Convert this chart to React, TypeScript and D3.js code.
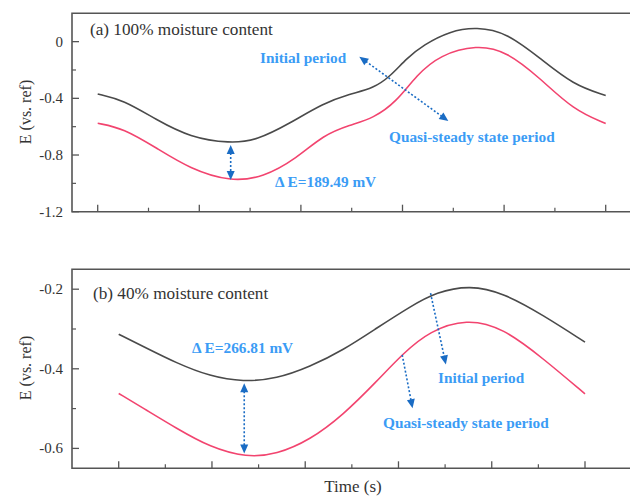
import React from "react";
import * as d3 from "d3";

// ---------- data ----------
const timeTopA = [0, 0.252, 0.581, 0.908, 1.302, 1.565, 1.893, 2.22, 2.483, 2.713, 2.877, 3.041, 3.205, 3.467, 3.73, 4.026, 4.354, 4.682, 5.0];
const initialA = [-0.369, -0.411, -0.553, -0.675, -0.718, -0.697, -0.576, -0.435, -0.369, -0.329, -0.247, -0.117, -0.023, 0.075, 0.104, 0.063, -0.117, -0.306, -0.38];
const timeTopB = [0, 0.252, 0.581, 0.908, 1.302, 1.63, 1.959, 2.22, 2.483, 2.713, 2.943, 3.14, 3.369, 3.73, 4.026, 4.354, 4.682, 5.0];
const quasiA = [-0.576, -0.611, -0.752, -0.897, -0.988, -0.958, -0.823, -0.659, -0.588, -0.541, -0.423, -0.235, -0.094, -0.022, -0.068, -0.258, -0.482, -0.578];

const timeBotA = [0, 0.264, 0.622, 0.979, 1.335, 1.693, 2.05, 2.407, 2.765, 3.122, 3.408, 3.765, 4.122, 4.551, 5.0];
const initialB = [-0.313, -0.344, -0.386, -0.419, -0.433, -0.425, -0.395, -0.353, -0.298, -0.244, -0.207, -0.19, -0.209, -0.265, -0.333];
const timeBotB = [0, 0.264, 0.622, 0.979, 1.372, 1.693, 2.05, 2.407, 2.765, 3.05, 3.336, 3.73, 4.122, 4.551, 5.0];
const quasiB = [-0.462, -0.499, -0.55, -0.597, -0.623, -0.615, -0.579, -0.516, -0.432, -0.361, -0.305, -0.274, -0.297, -0.374, -0.463];

const yMajorTop = [0, -0.4, -0.8, -1.2];
const yMajorTopLabels = ["0", "-0.4", "-0.8", "-1.2"];
const yMinorTop = [-0.2, -0.6, -1.0];
const yMajorBot = [-0.2, -0.4, -0.6];
const yMajorBotLabels = ["-0.2", "-0.4", "-0.6"];
const yMinorBot = [-0.3, -0.5];
const xMajor = [0, 1, 2, 3, 4, 5];
const xMinor = [0.5, 1.5, 2.5, 3.5, 4.5];

const BLACK = "#4a4a4a";
const RED = "#f2446f";
const BLUE_TEXT = "#3b9cf5";
const BLUE_ARROW = "#1a6cc4";
const AXIS = "#555";
const FONT = "'Liberation Serif', 'Times New Roman', serif";

type Scale = d3.ScaleLinear<number, number>;

function Arrow({ x1, y1, x2, y2, head1, head2 }: { x1: number; y1: number; x2: number; y2: number; head1: boolean; head2: boolean }) {
  const ang = Math.atan2(y2 - y1, x2 - x1);
  const L = 9, W = 4;
  const head = (x: number, y: number, a: number) => {
    const bx = x - L * Math.cos(a), by = y - L * Math.sin(a);
    const px = -Math.sin(a) * W, py = Math.cos(a) * W;
    return `M${x},${y}L${bx + px},${by + py}L${bx - px},${by - py}Z`;
  };
  const sx = head1 ? x1 + (L - 1) * Math.cos(ang) : x1;
  const sy = head1 ? y1 + (L - 1) * Math.sin(ang) : y1;
  const ex = head2 ? x2 - (L - 1) * Math.cos(ang) : x2;
  const ey = head2 ? y2 - (L - 1) * Math.sin(ang) : y2;
  return (
    <g>
      <line x1={sx} y1={sy} x2={ex} y2={ey} stroke={BLUE_ARROW} strokeWidth={1.6} strokeDasharray="2,2" />
      {head1 && <path d={head(x1, y1, ang + Math.PI)} fill={BLUE_ARROW} />}
      {head2 && <path d={head(x2, y2, ang)} fill={BLUE_ARROW} />}
    </g>
  );
}

function Panel({ x, y, yMajor, yLabels, yMinor, left, top, bottom, right, labelY }: {
  x: Scale; y: Scale; yMajor: number[]; yLabels: string[]; yMinor: number[]; left: number; top: number; bottom: number; right: number; labelY: number;
}) {
  return (
    <g>
      <path d={`M${right},${top}H${left}V${bottom}H${right}`} fill="none" stroke={AXIS} strokeWidth={1.6} />
      {yMajor.map((v, i) => (
        <g key={"ym" + i}>
          <line x1={left} x2={left + 7} y1={y(v)} y2={y(v)} stroke={AXIS} strokeWidth={1.3} />
          <text x={left - 9} y={y(v) + 5} textAnchor="end" fontFamily={FONT} fontSize={15} fill="#333">{yLabels[i]}</text>
        </g>
      ))}
      {yMinor.map((v, i) => (
        <line key={"yn" + i} x1={left} x2={left + 4} y1={y(v)} y2={y(v)} stroke={AXIS} strokeWidth={1.2} />
      ))}
      {xMajor.map((v, i) => (
        <line key={"xm" + i} x1={x(v)} x2={x(v)} y1={bottom} y2={bottom - 7} stroke={AXIS} strokeWidth={1.3} />
      ))}
      {xMinor.map((v, i) => (
        <line key={"xn" + i} x1={x(v)} x2={x(v)} y1={bottom} y2={bottom - 4} stroke={AXIS} strokeWidth={1.2} />
      ))}
      <text transform={`translate(31,${labelY}) rotate(-90)`} textAnchor="middle" fontFamily={FONT} fontSize={16} fill="#333">E (vs. ref)</text>
    </g>
  );
}

export default function App() {
  const xT = d3.scaleLinear([0, 5], [97.7, 605.7]);
  const yT = d3.scaleLinear([-1.2, 0.2], [211.7, 13.3]);
  const xB = d3.scaleLinear([0, 5], [118.7, 585]);
  const yB = d3.scaleLinear([-0.65, -0.15], [468.3, 269.3]);

  const curve = d3.curveBasis;
  const lineT = (ts: number[], vs: number[]) =>
    d3.line<number>().x((_, i) => xT(ts[i])).y((v) => yT(v)).curve(curve)(vs) || "";
  const lineB = (ts: number[], vs: number[]) =>
    d3.line<number>().x((_, i) => xB(ts[i])).y((v) => yB(v)).curve(curve)(vs) || "";

  const bold = { fontFamily: FONT, fontWeight: 700 as const, fontSize: 15.3, fill: BLUE_TEXT };

  return (
    <svg width={630} height={497} style={{ position: "absolute", left: 0, top: 0, background: "#fff" }}>
      <rect width={630} height={497} fill="#fff" />
      <Panel x={xT} y={yT} yMajor={yMajorTop} yLabels={yMajorTopLabels} yMinor={yMinorTop} left={72} top={13.3} bottom={211.7} right={632} labelY={112} />
      <Panel x={xB} y={yB} yMajor={yMajorBot} yLabels={yMajorBotLabels} yMinor={yMinorBot} left={72} top={269.3} bottom={468.3} right={632} labelY={368} />

      <path d={lineT(timeTopA, initialA)} fill="none" stroke={BLACK} strokeWidth={1.6} />
      <path d={lineT(timeTopB, quasiA)} fill="none" stroke={RED} strokeWidth={1.6} />
      <path d={lineB(timeBotA, initialB)} fill="none" stroke={BLACK} strokeWidth={1.6} />
      <path d={lineB(timeBotB, quasiB)} fill="none" stroke={RED} strokeWidth={1.6} />

      {/* panel a annotations */}
      <text x={90} y={35} fontFamily={FONT} fontSize={17.2} fill="#333">(a) 100% moisture content</text>
      <text x={260} y={63} {...bold}>Initial period</text>
      <text x={389} y={142} {...bold}>Quasi-steady state period</text>
      <text x={275} y={187} {...bold}>Δ E=189.49 mV</text>
      <Arrow x1={xT(2.575)} y1={yT(-0.106)} x2={xT(3.451)} y2={yT(-0.56)} head1={true} head2={true} />
      <Arrow x1={xT(1.309)} y1={yT(-0.729)} x2={xT(1.309)} y2={yT(-0.976)} head1={true} head2={true} />

      {/* panel b annotations */}
      <text x={93} y={299} fontFamily={FONT} fontSize={17.2} fill="#333">(b) 40% moisture content</text>
      <text x={192} y={353} {...bold}>Δ E=266.81 mV</text>
      <text x={438} y={383} {...bold}>Initial period</text>
      <text x={383} y={428} {...bold}>Quasi-steady state period</text>
      <Arrow x1={xB(1.346)} y1={yB(-0.4365)} x2={xB(1.346)} y2={yB(-0.6126)} head1={true} head2={true} />
      <Arrow x1={xB(3.344)} y1={yB(-0.21)} x2={xB(3.508)} y2={yB(-0.389)} head1={false} head2={true} />
      <Arrow x1={xB(3.04)} y1={yB(-0.365)} x2={xB(3.151)} y2={yB(-0.499)} head1={false} head2={true} />

      <text x={353} y={492} textAnchor="middle" fontFamily={FONT} fontSize={17} fill="#333">Time (s)</text>
    </svg>
  );
}
